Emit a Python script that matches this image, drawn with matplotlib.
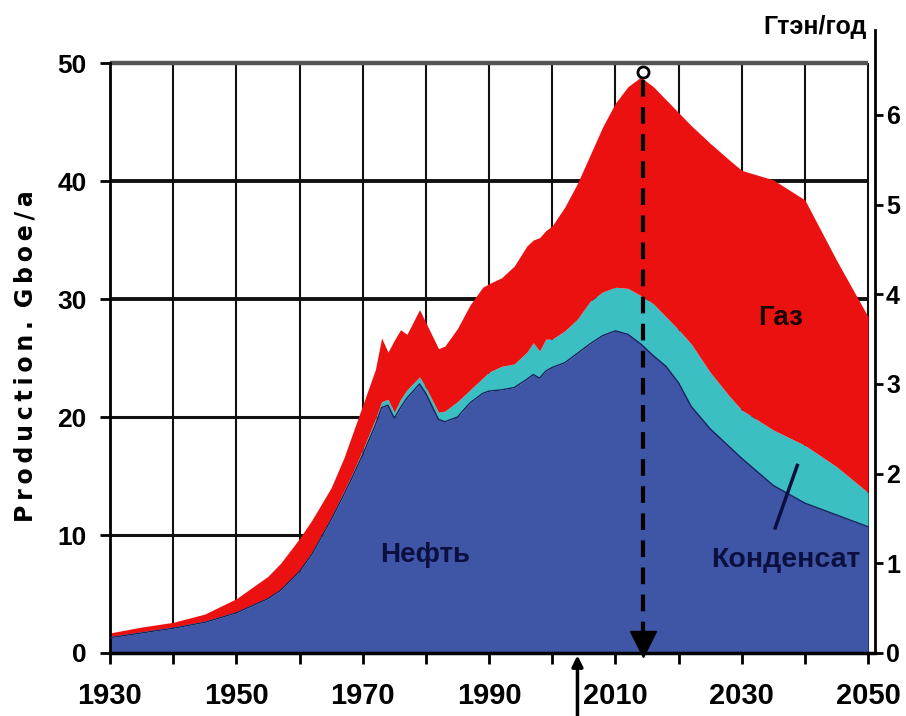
"""
Добыча нефти, конденсата и газа 1930-2050 (Gboe/a, правая шкала Гтэн/год).
Штабелированные области через fill_between, сетка рисуется вручную.
"""
import matplotlib
matplotlib.use("Agg")
import matplotlib.pyplot as plt

# ---------------------------- данные ---------------------------- #
years = [1930, 1935, 1940, 1945, 1950, 1955, 1957, 1960, 1962, 1965,
         1967, 1968, 1970, 1972, 1973, 1974, 1975, 1976, 1977, 1979,
         1980, 1982, 1983, 1985, 1987, 1989, 1990, 1992, 1994, 1996,
         1997, 1998, 1999, 2000, 2002, 2004, 2006, 2008, 2010, 2012,
         2014, 2016, 2018, 2020, 2022, 2025, 2028, 2030, 2035, 2040,
         2045, 2050]

# верх синей области (нефть)
oil_top = [1.3, 1.7, 2.1, 2.6, 3.4, 4.6, 5.3, 6.9, 8.4, 11.3,
           13.4, 14.5, 16.8, 19.3, 20.8, 21.0, 19.9, 20.8, 21.6, 22.8,
           22.0, 19.8, 19.6, 20.0, 21.2, 22.0, 22.2, 22.3, 22.5, 23.2,
           23.6, 23.3, 23.9, 24.2, 24.6, 25.4, 26.2, 26.9, 27.3, 27.0,
           26.2, 25.2, 24.3, 22.9, 20.9, 19.0, 17.5, 16.5, 14.2, 12.7,
           11.7, 10.7]

# верх бирюзовой области (нефть + конденсат)
cond_top = [1.4, 1.8, 2.2, 2.7, 3.5, 4.7, 5.4, 7.0, 8.6, 11.5,
            13.7, 14.8, 17.2, 19.8, 21.3, 21.5, 20.4, 21.5, 22.3, 23.4,
            22.5, 20.4, 20.5, 21.3, 22.3, 23.3, 23.8, 24.3, 24.5, 25.5,
            26.3, 25.6, 26.6, 26.6, 27.3, 28.3, 29.8, 30.6, 31.0, 30.9,
            30.3, 29.6, 28.5, 27.4, 26.2, 23.8, 21.8, 20.6, 18.9, 17.6,
            15.8, 13.6]

# верх красной области (всего, с газом)
total_top = [1.7, 2.2, 2.6, 3.3, 4.6, 6.5, 7.6, 9.7, 11.3, 14.0,
             16.5, 18.0, 21.0, 24.0, 26.7, 25.5, 26.5, 27.4, 27.0, 29.1,
             28.0, 25.8, 26.0, 27.5, 29.5, 31.0, 31.3, 31.8, 32.8, 34.5,
             35.0, 35.2, 35.8, 36.2, 37.8, 39.8, 42.2, 44.6, 46.6, 48.0,
             48.8, 48.0, 46.9, 45.8, 44.7, 43.2, 41.8, 40.9, 40.1, 38.4,
             33.3, 28.5]

left_ticks = [0, 10, 20, 30, 40, 50]
right_ticks = [0, 1, 2, 3, 4, 5, 6]
x_ticks = [1930, 1940, 1950, 1960, 1970, 1980, 1990, 2000, 2010, 2020, 2030, 2040, 2050]
x_labels = ["1930", "", "1950", "", "1970", "", "1990", "", "2010", "", "2030", "", "2050"]

peak_year = 2014.3
peak_value = 49.2
now_year = 2004
gboe_per_gtoe = 7.6

BLUE = "#3F55A6"
CYAN = "#3CBFC2"
RED = "#EC1111"
NAVY = "#0b1040"
SANS = ["Liberation Sans", "DejaVu Sans"]

# ---------------------------- фигура ---------------------------- #
fig = plt.figure(figsize=(9.06, 7.16), dpi=100)
ax = fig.add_axes([110 / 906, 63 / 716, 765 / 906, 623 / 716])
ax.set_xlim(1930, 2051.1)
ax.set_ylim(0, 52.8)

# сетка
ax.vlines(x_ticks[1:], 0, 50, colors="#111111", lw=1.5, zorder=1)
ax.hlines([10, 20], 1930, 2050, colors="#111111", lw=2.2, zorder=1)
ax.hlines([30, 40], 1930, 2050, colors="#111111", lw=2.8, zorder=1)
ax.hlines([50], 1930, 2050, colors="#555555", lw=3.2, zorder=1)

# области
ax.fill_between(years, 0, oil_top, color=BLUE, lw=0, zorder=2)
ax.fill_between(years, oil_top, cond_top, color=CYAN, lw=0, zorder=2)
ax.fill_between(years, cond_top, total_top, color=RED, lw=0, zorder=2)
ax.plot(years, oil_top, color="#1a2060", lw=1.0, zorder=3)

# пик добычи: пунктир, кружок, стрелка вниз
ax.plot([peak_year, peak_year], [peak_value - 0.6, 1.8], color="black",
        lw=3, ls=(0, (4, 2.5)), zorder=4)
ax.plot(peak_year, peak_value, marker="o", ms=8, mfc="white", mec="black",
        mew=2, zorder=5)
ax.plot(peak_year, 0.8, marker="v", ms=19, color="black", zorder=5, clip_on=False)

# стрелка "сейчас" под осью
ax.annotate("", xy=(now_year, -0.2), xycoords="data",
            xytext=(now_year, 0.0), textcoords=("data", "figure fraction"),
            arrowprops=dict(arrowstyle="-|>", lw=2.5, color="black",
                            mutation_scale=16, shrinkA=0, shrinkB=0),
            annotation_clip=False)

# подписи областей
ax.text(1979.9, 8.3, "Нефть", family=SANS, fontweight="bold",
        fontsize=20, color=NAVY, ha="center", va="center", zorder=6)
ax.text(2037.0, 7.9, "Конденсат", family=SANS, fontweight="bold",
        fontsize=20.5, color=NAVY, ha="center", va="center", zorder=6)
ax.text(2036.2, 28.4, "Газ", family=SANS, fontweight="bold",
        fontsize=20, color="#1a0505", ha="center", va="center", zorder=6)
ax.plot([2035.3, 2038.8], [10.6, 15.9], color=NAVY, lw=2.5, zorder=6)

# оси
for side in ("top", "right"):
    ax.spines[side].set_visible(False)
ax.spines["left"].set_bounds(0, 50)
ax.spines["left"].set_linewidth(2)
ax.spines["bottom"].set_linewidth(2.5)
ax.set_yticks(left_ticks)
ax.set_yticklabels([str(v) for v in left_ticks], family=SANS,
                   fontweight="bold", fontsize=19)
ax.set_xticks(x_ticks)
ax.set_xticklabels(x_labels, family=SANS, fontweight="bold", fontsize=21)
ax.tick_params(axis="y", length=7, width=2, pad=10)
ax.tick_params(axis="x", length=8, width=2, pad=13)

ax.set_ylabel("P\u2009r\u2009o\u2009d\u2009u\u2009c\u2009t\u2009i\u2009o\u2009n\u2009.\u2009 "
              "G\u2009b\u2009o\u2009e\u2009/\u2009a",
              family="DejaVu Sans", fontweight="bold", fontsize=17)
ax.yaxis.set_label_coords(-0.095, (653 - 356) / 623)

# правая шкала Гтэн/год
ax2 = ax.twinx()
ax2.set_ylim(0, 52.8 / gboe_per_gtoe)
for side in ("top", "left", "bottom"):
    ax2.spines[side].set_visible(False)
ax2.spines["right"].set_linewidth(2)
ax2.set_yticks(right_ticks)
ax2.set_yticklabels([str(v) for v in right_ticks], family=SANS,
                    fontweight="bold", fontsize=18)
ax2.tick_params(axis="y", length=6, width=2, pad=2)

fig.text(867 / 906, 1 - 27 / 716, "Гтэн/год", family=SANS, fontweight="bold",
         fontsize=18, ha="right", va="center")

fig.savefig("out.png", dpi=100)
